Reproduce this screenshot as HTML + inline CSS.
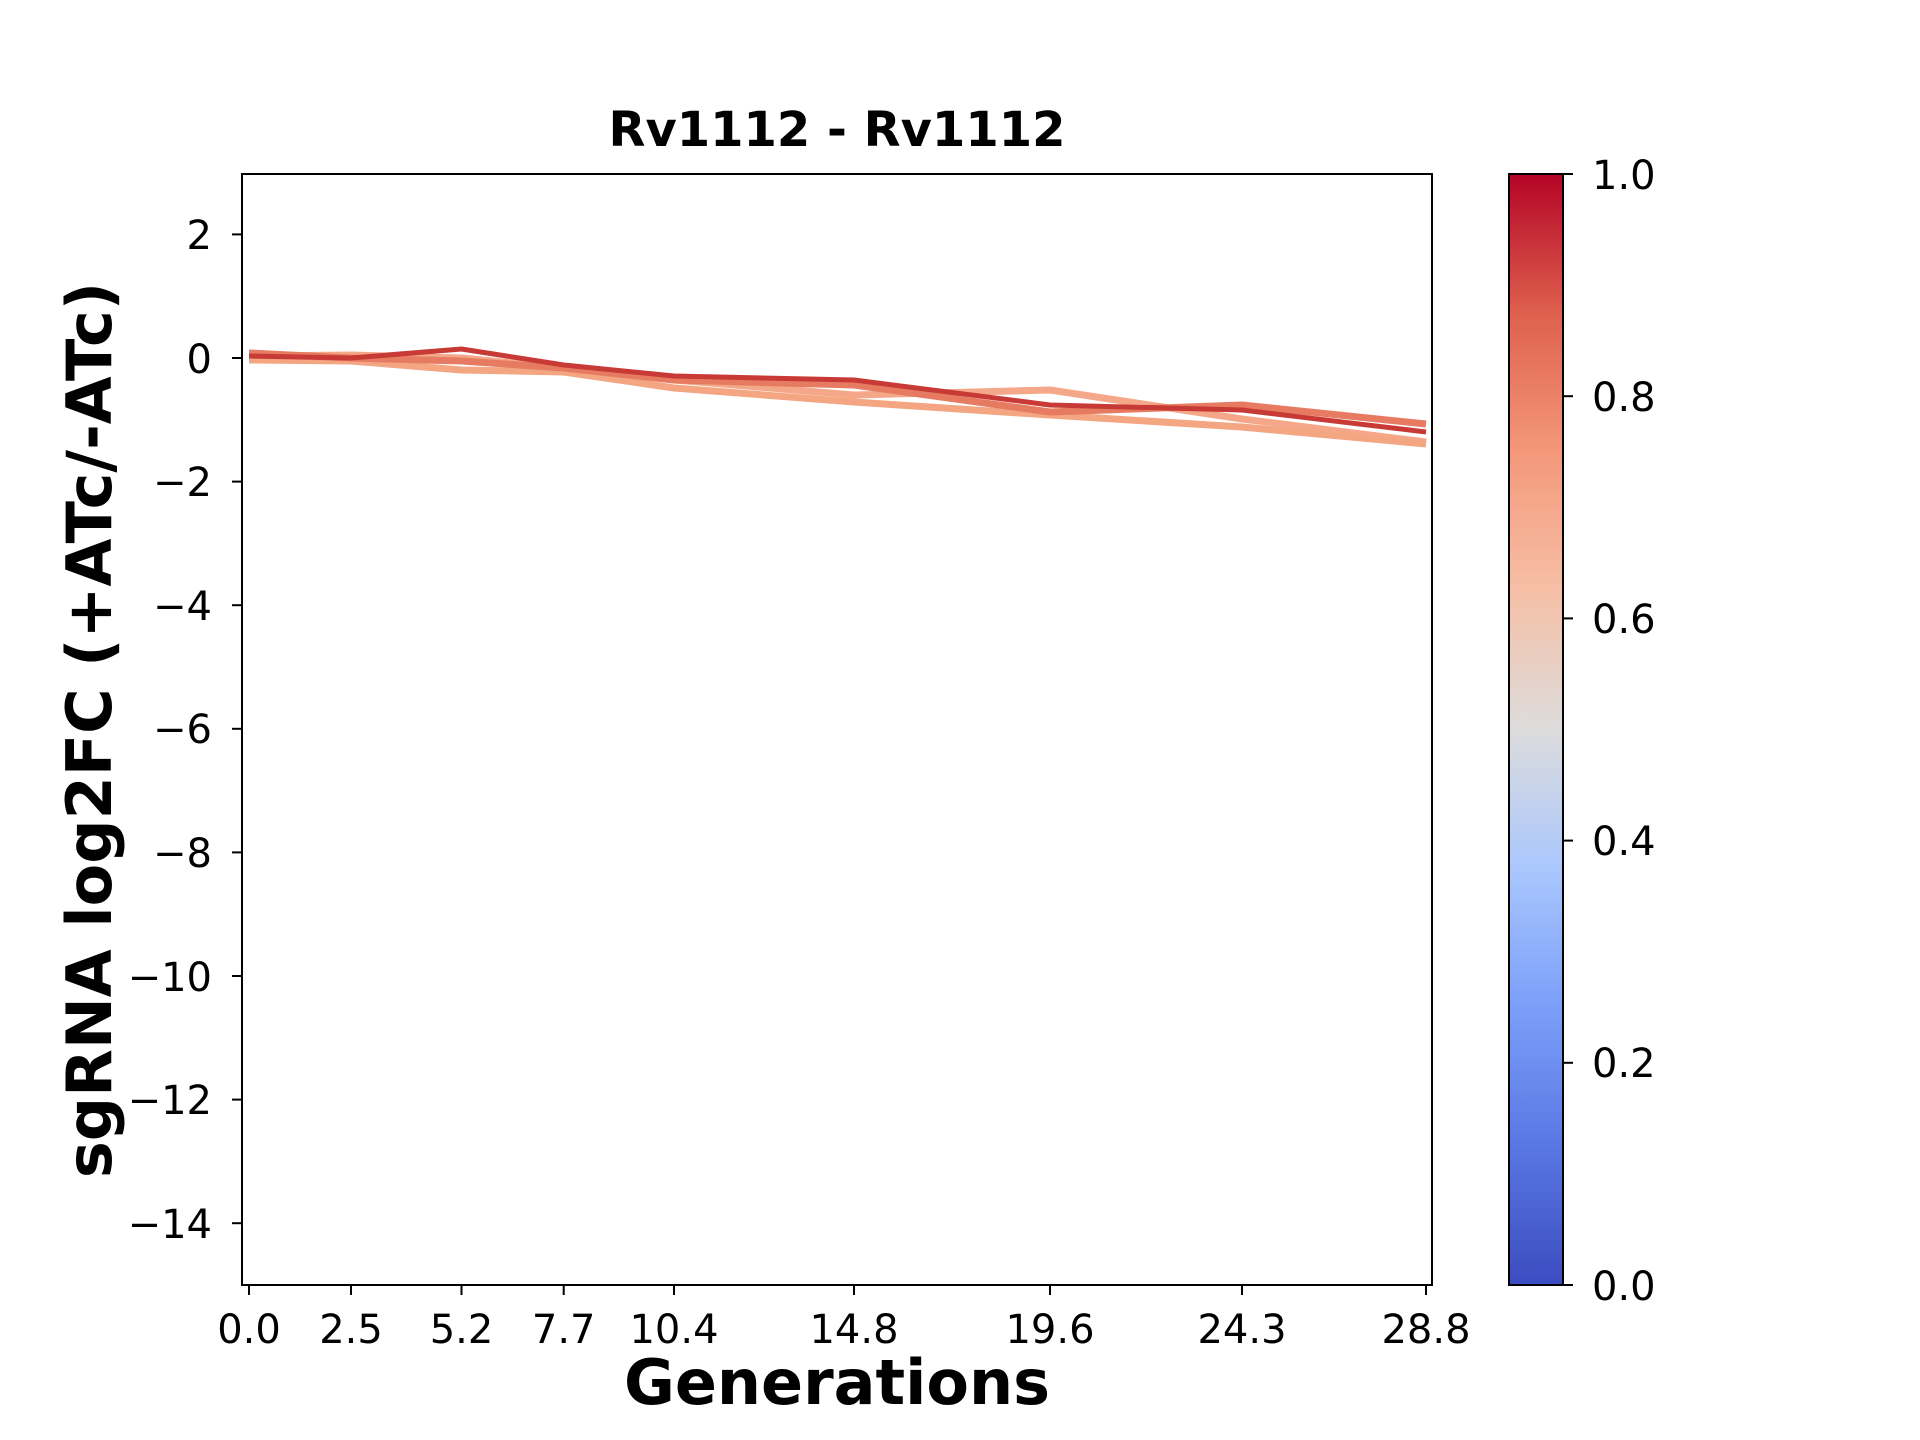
<!DOCTYPE html>
<html><head><meta charset="utf-8"><style>html,body{margin:0;padding:0;background:#fff}svg{display:block}</style></head>
<body>
<svg width="1920" height="1440" viewBox="0 0 1920 1440" xmlns="http://www.w3.org/2000/svg" font-family="'DejaVu Sans','Liberation Sans',sans-serif">
<defs>
<linearGradient id="cw" x1="0" y1="1" x2="0" y2="0">
<stop offset="0" stop-color="#3b4cc0"/><stop offset="0.125" stop-color="#5977e3"/><stop offset="0.25" stop-color="#7b9ff9"/><stop offset="0.375" stop-color="#aac7fd"/><stop offset="0.5" stop-color="#dddcdc"/><stop offset="0.625" stop-color="#f6bfa6"/><stop offset="0.75" stop-color="#f4987a"/><stop offset="0.875" stop-color="#de604d"/><stop offset="1" stop-color="#b40426"/>
</linearGradient>
<clipPath id="c"><rect x="242" y="174" width="1190" height="1111"/></clipPath>
</defs>
<rect width="1920" height="1440" fill="#fff"/>
<g clip-path="url(#c)" fill="none" stroke-linejoin="round" stroke-width="7">
<polyline stroke="#f5a889" points="249,356 351,355 461.5,358 563.7,368 674,380 854,395 1050,390 1242,419 1426,442"/>
<polyline stroke="#f4a582" points="249,360 351,361 461.5,370 563.7,372 674,388 854,402 1050,415 1242,427 1426,444"/>
<polyline stroke="#e67b62" points="249,353 351,358 461.5,361 563.7,368 674,380 854,385 1050,412 1242,405 1426,424"/>
<polyline stroke="#c83a35" stroke-width="5" points="249,356 351,358 461.5,349 563.7,365 674,376 854,380 1050,405 1242,410 1426,432"/>
</g>
<rect x="242" y="174" width="1190" height="1111" fill="none" stroke="#000" stroke-width="2"/>
<g stroke="#000" stroke-width="2">
<line x1="242" y1="234.4" x2="232" y2="234.4"/><line x1="242" y1="358" x2="232" y2="358"/><line x1="242" y1="481.6" x2="232" y2="481.6"/><line x1="242" y1="605.2" x2="232" y2="605.2"/><line x1="242" y1="728.8" x2="232" y2="728.8"/><line x1="242" y1="852.4" x2="232" y2="852.4"/><line x1="242" y1="976" x2="232" y2="976"/><line x1="242" y1="1099.6" x2="232" y2="1099.6"/><line x1="242" y1="1223.2" x2="232" y2="1223.2"/>
<line x1="249" y1="1285" x2="249" y2="1295"/><line x1="351" y1="1285" x2="351" y2="1295"/><line x1="461.5" y1="1285" x2="461.5" y2="1295"/><line x1="563.7" y1="1285" x2="563.7" y2="1295"/><line x1="674" y1="1285" x2="674" y2="1295"/><line x1="854" y1="1285" x2="854" y2="1295"/><line x1="1050" y1="1285" x2="1050" y2="1295"/><line x1="1242" y1="1285" x2="1242" y2="1295"/><line x1="1426" y1="1285" x2="1426" y2="1295"/>
</g>
<g font-size="40" text-anchor="end">
<text x="212" y="249">2</text><text x="212" y="373">0</text><text x="212" y="496">−2</text><text x="212" y="620">−4</text><text x="212" y="743">−6</text><text x="212" y="867">−8</text><text x="212" y="991">−10</text><text x="212" y="1114">−12</text><text x="212" y="1238">−14</text>
</g>
<g font-size="40" text-anchor="middle">
<text x="249" y="1343">0.0</text><text x="351" y="1343">2.5</text><text x="461.5" y="1343">5.2</text><text x="563.7" y="1343">7.7</text><text x="674" y="1343">10.4</text><text x="854" y="1343">14.8</text><text x="1050" y="1343">19.6</text><text x="1242" y="1343">24.3</text><text x="1426" y="1343">28.8</text>
</g>
<text x="837" y="146" font-size="48" font-weight="bold" text-anchor="middle">Rv1112 - Rv1112</text>
<text x="837" y="1404" font-size="62" font-weight="bold" text-anchor="middle">Generations</text>
<text transform="translate(111,730) rotate(-90)" font-size="62" font-weight="bold" text-anchor="middle">sgRNA log2FC (+ATc/-ATc)</text>
<rect x="1509" y="174" width="54" height="1111" fill="url(#cw)" stroke="#000" stroke-width="2"/>
<g stroke="#000" stroke-width="2">
<line x1="1563" y1="174" x2="1573" y2="174"/><line x1="1563" y1="396.2" x2="1573" y2="396.2"/><line x1="1563" y1="618.4" x2="1573" y2="618.4"/><line x1="1563" y1="840.6" x2="1573" y2="840.6"/><line x1="1563" y1="1062.8" x2="1573" y2="1062.8"/><line x1="1563" y1="1285" x2="1573" y2="1285"/>
</g>
<g font-size="40">
<text x="1592" y="189">1.0</text><text x="1592" y="411">0.8</text><text x="1592" y="633">0.6</text><text x="1592" y="855">0.4</text><text x="1592" y="1077">0.2</text><text x="1592" y="1300">0.0</text>
</g>
</svg>
</body></html>
